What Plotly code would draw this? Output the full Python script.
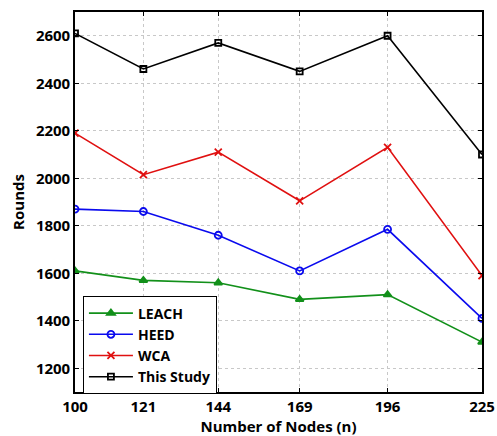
import plotly.graph_objects as go

nodes = [100, 121, 144, 169, 196, 225]
leach = [1610, 1570, 1560, 1490, 1510, 1310]
heed = [1870, 1860, 1760, 1610, 1785, 1410]
wca = [2190, 2015, 2110, 1905, 2130, 1590]
this_study = [2610, 2460, 2570, 2450, 2600, 2100]

y_ticks = [1200, 1400, 1600, 1800, 2000, 2200, 2400, 2600]

series = [
    ("LEACH", leach, "#12901a", "triangle-up", 7),
    ("HEED", heed, "#0a0aee", "circle-open", 7),
    ("WCA", wca, "#e01010", "x-thin-open", 7),
    ("This Study", this_study, "#000000", "square-open", 6),
]

fig = go.Figure()
for name, vals, color, symbol, msize in series:
    fig.add_trace(go.Scatter(
        x=nodes, y=vals, name=name, mode="lines+markers",
        line=dict(color=color, width=1.6),
        marker=dict(symbol=symbol, size=msize, color=color,
                    line=dict(color=color, width=1.8)),
    ))

font_family = "'Open Sans', sans-serif"
bold_font = dict(family=font_family, size=15, color="black", weight="bold")

axis_common = dict(
    showline=True, linecolor="black", linewidth=1.6, mirror="ticks",
    ticks="inside", ticklen=4, tickcolor="black", tickwidth=1,
    showgrid=True, gridcolor="#c8c8c8", gridwidth=1, griddash="dot",
    zeroline=False, automargin=False,
    tickfont=bold_font,
)

fig.update_layout(
    width=497, height=436,
    margin=dict(l=75, r=15, t=12, b=44),
    paper_bgcolor="white", plot_bgcolor="white",
    showlegend=True,
    legend=dict(
        x=0.019, y=-0.006, xanchor="left", yanchor="bottom",
        bgcolor="white", bordercolor="black", borderwidth=1.2,
        font=dict(family=font_family, size=14, color="black", weight="bold"),
        tracegroupgap=0, itemwidth=44,
    ),
    xaxis=dict(
        range=[100, 225], tickvals=nodes, ticktext=[str(v) for v in nodes],
        title=dict(text="Number of Nodes (n)", standoff=10, font=bold_font),
        **axis_common,
    ),
    yaxis=dict(
        range=[1100, 2700], tickvals=y_ticks,
        title=dict(text="Rounds", standoff=8, font=bold_font),
        **axis_common,
    ),
)

fig.write_html("out.html")
